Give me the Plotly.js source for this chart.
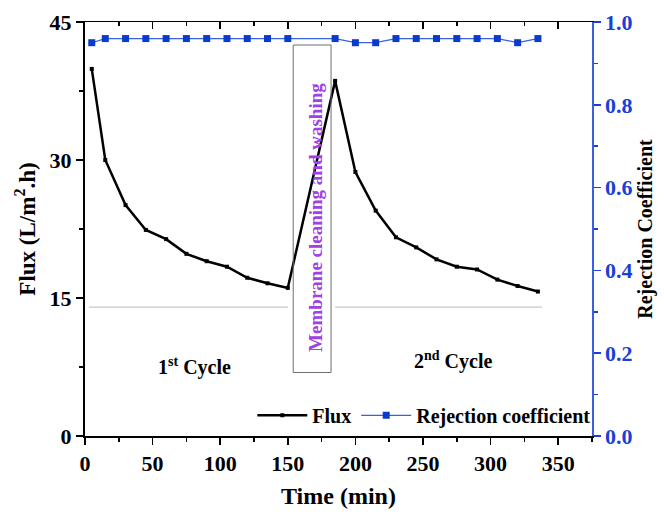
<!DOCTYPE html>
<html>
<head>
<meta charset="utf-8">
<script src="https://cdn.plot.ly/plotly-3.0.1.min.js"></script>
<style>html,body{margin:0;padding:0;background:#fff;}#chart{width:664px;height:515px;}</style>
</head>
<body>
<div id="chart"></div>
<script>
// Data
const timeMin = [5, 15, 30, 45, 60, 75, 90, 105, 120, 135, 150,
                 185, 200, 215, 230, 245, 260, 275, 290, 305, 320, 335];
const flux = [39.9, 30.0, 25.1, 22.4, 21.4, 19.8, 19.0, 18.4, 17.2, 16.6, 16.1,
              38.6, 28.7, 24.5, 21.6, 20.5, 19.2, 18.4, 18.1, 17.0, 16.3, 15.7];
const rejection = [0.95, 0.96, 0.96, 0.96, 0.96, 0.96, 0.96, 0.96, 0.96, 0.96, 0.96,
                   0.96, 0.95, 0.95, 0.96, 0.96, 0.96, 0.96, 0.96, 0.96, 0.95, 0.96];
const refLineX = [3, 150, null, 185, 338];
const refLineY = [14, 14, null, 14, 14];
const boxX = [154, 182];
const boxY = [6.9, 42.5];
const boxLabel = "Membrane cleaning and washing";
const cycleLabels = ["1<sup>st</sup> Cycle", "2<sup>nd</sup> Cycle"];
const cycleX = [81, 272];
const cycleY = [7.6, 8.2];

const serif = "Liberation Serif, Times New Roman, serif";
const blue = "#1a3fd6";

const traces = [
  {x: refLineX, y: refLineY, mode: "lines", line: {color: "#c8c8c8", width: 1.2},
   showlegend: false, hoverinfo: "skip", xaxis: "x2", yaxis: "y"},
  {x: timeMin, y: flux, name: "Flux", mode: "lines+markers",
   line: {color: "#000", width: 2.5}, marker: {symbol: "square", size: 4, color: "#000"}},
  {x: timeMin, y: rejection, name: "Rejection coefficient", mode: "lines+markers", yaxis: "y2",
   line: {color: "#3a5fe0", width: 1.2}, marker: {symbol: "square", size: 7, color: "#0a3bd0"}}
];

const layout = {
  width: 664, height: 515,
  margin: {l: 85, r: 72, t: 22, b: 79},
  paper_bgcolor: "#fff", plot_bgcolor: "#fff",
  font: {family: serif, size: 22, color: "#000", weight: "bold"},
  showlegend: true,
  legend: {orientation: "h", x: 0.33, xanchor: "left", y: 0.05, yanchor: "middle",
           bgcolor: "rgba(0,0,0,0)", font: {family: serif, size: 20, weight: "bold"},
           itemwidth: 50, tracegroupgap: 0},
  xaxis: {range: [0, 375], tickvals: [0, 50, 100, 150, 200, 250, 300, 350],
          ticks: "outside", ticklen: 7, tickwidth: 1.5, tickcolor: "#000",
          minor: {tickvals: [25, 75, 125, 175, 225, 275, 325, 375], ticks: "outside", ticklen: 4, tickcolor: "#000"},
          showline: true, linecolor: "#000", linewidth: 2, showgrid: false, zeroline: false,
          tickfont: {family: serif, size: 22, weight: "bold"},
          title: {text: "Time (min)", font: {family: serif, size: 24, weight: "bold"}, standoff: 12}},
  xaxis2: {range: [0, 375], overlaying: "x", side: "top", tickvals: [0, 50, 100, 150, 200, 250, 300, 350],
           ticks: "inside", ticklen: 7, tickwidth: 1.5, tickcolor: "#000",
           minor: {tickvals: [25, 75, 125, 175, 225, 275, 325, 375], ticks: "inside", ticklen: 4, tickcolor: "#000"},
           showticklabels: false, showline: true, linecolor: "#000", linewidth: 1.5, showgrid: false, zeroline: false},
  yaxis: {range: [0, 45], tickvals: [0, 15, 30, 45],
          ticks: "outside", ticklen: 7, tickwidth: 1.5, tickcolor: "#000",
          minor: {tickvals: [7.5, 22.5, 37.5], ticks: "outside", ticklen: 4, tickcolor: "#000"},
          showline: true, linecolor: "#000", linewidth: 2, showgrid: false, zeroline: false,
          tickfont: {family: serif, size: 22, weight: "bold"},
          title: {text: "Flux (L/m<sup>2</sup>.h)", font: {family: serif, size: 23, weight: "bold"}, standoff: 8}},
  yaxis2: {range: [0, 1.0], overlaying: "y", side: "right", tickvals: [0, 0.2, 0.4, 0.6, 0.8, 1.0],
           ticktext: ["0.0", "0.2", "0.4", "0.6", "0.8", "1.0"],
           ticks: "outside", ticklen: 7, tickwidth: 1.5, tickcolor: blue,
           minor: {tickvals: [0.1, 0.3, 0.5, 0.7, 0.9], ticks: "outside", ticklen: 4, tickcolor: blue},
           showline: true, linecolor: "#3a5fe0", linewidth: 1.5, showgrid: false, zeroline: false,
           tickfont: {family: serif, size: 22, color: blue, weight: "bold"},
           title: {text: "Rejection Coefficient", font: {family: serif, size: 20, weight: "bold", color: "#000"}, standoff: 6}},
  shapes: [
    {type: "rect", xref: "x", yref: "y", x0: boxX[0], x1: boxX[1], y0: boxY[0], y1: boxY[1],
     line: {color: "#6e6e6e", width: 1}, fillcolor: "rgba(0,0,0,0)"}
  ],
  annotations: [
    {x: (boxX[0] + boxX[1]) / 2 + 2, y: 23.8, xref: "x", yref: "y", text: boxLabel, textangle: -90,
     showarrow: false, font: {family: serif, size: 19, color: "#a040e8", weight: "bold"}},
    {x: cycleX[0], y: cycleY[0], xref: "x", yref: "y", text: cycleLabels[0], showarrow: false,
     font: {family: serif, size: 20, weight: "bold"}},
    {x: cycleX[1], y: cycleY[1], xref: "x", yref: "y", text: cycleLabels[1], showarrow: false,
     font: {family: serif, size: 20, weight: "bold"}}
  ]
};

Plotly.newPlot("chart", traces, layout, {displayModeBar: false, staticPlot: true});
</script>
</body>
</html>
